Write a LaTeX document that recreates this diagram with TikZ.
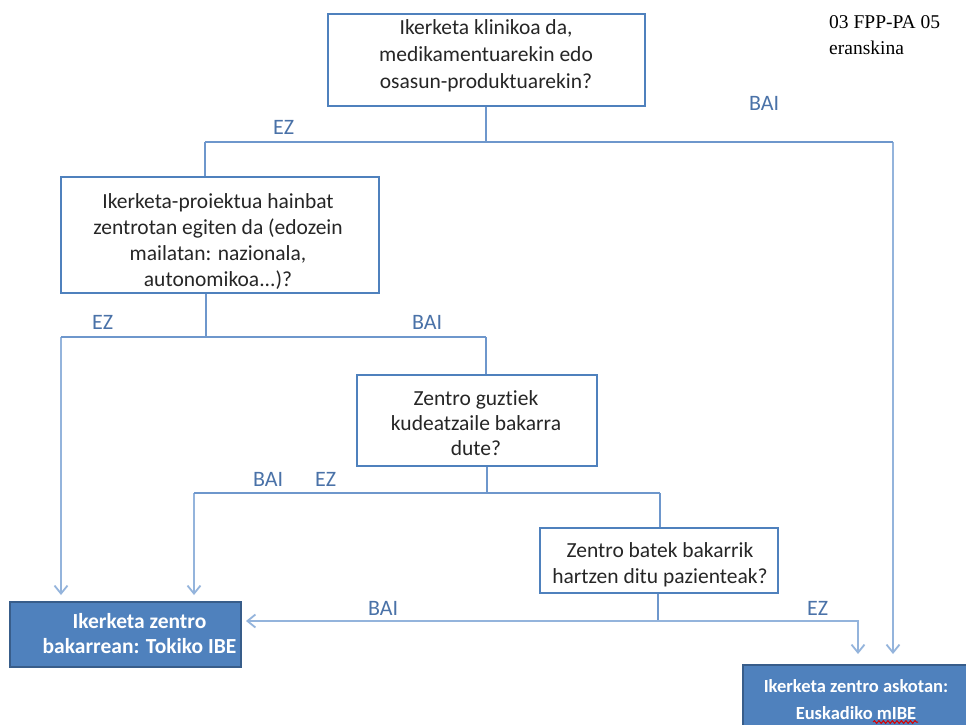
\documentclass[tikz,border=0pt]{standalone}
\usepackage{fontspec}
\setmainfont{Carlito}[Ligatures=NoCommon]
\newfontfamily\serifnote{Liberation Serif}
\usetikzlibrary{arrows.meta,decorations.pathmorphing}
\definecolor{boxblue}{HTML}{4F81BD}
\definecolor{darkblue}{HTML}{385D8A}
\definecolor{linemid}{HTML}{6E97CC}
\definecolor{linelight}{HTML}{94B4DC}
\definecolor{lblblue}{HTML}{4A72A8}
\definecolor{qtextcol}{HTML}{262626}
\begin{document}
\begin{tikzpicture}[x=1pt,y=-1pt,
  qbox/.style={draw=boxblue, line width=2.6pt, fill=white, inner sep=0pt},
  tbox/.style={draw=darkblue, line width=2pt, fill=boxblue, inner sep=0pt},
  qtext/.style={align=center, inner sep=0pt, anchor=north, text=qtextcol},
  ttext/.style={align=center, inner sep=0pt, anchor=north, text=white},
  lbl/.style={anchor=base west, inner sep=0pt, text=lblblue, font=\fontsize{22}{26}\selectfont},
  conn/.style={draw=linemid, line width=1.3pt},
  arr/.style={draw=linelight, line width=1.8pt, -{Straight Barb[length=8pt,width=13pt]}}
]
\useasboundingbox (0,0) rectangle (966,725);
\fill[white] (0,0) rectangle (966,725);
\clip (0,0) rectangle (966,725);

% boxes
\node[qbox, minimum width=317pt, minimum height=92pt] (b1) at (486.5,60) {};
\node[qbox, minimum width=318pt, minimum height=116pt] (b2) at (220,235) {};
\node[qbox, minimum width=240pt, minimum height=91pt] (b3) at (477,420.5) {};
\node[qbox, minimum width=238pt, minimum height=65pt] (b4) at (659,560.5) {};
\node[tbox, minimum width=231pt, minimum height=65pt] (b5) at (125.5,634.5) {};
\node[tbox, minimum width=247pt, minimum height=80pt] (b6) at (866.5,705) {};

% texts
\node[qtext, font=\fontsize{21.5}{27}\selectfont] (t1) at (486,15.6)
  {\strut Ikerketa klinikoa da,\\medikamentuarekin edo\\osasun-produktuarekin?};
\node[qtext, font=\fontsize{21.5}{26}\selectfont] (t2) at (218,189.8)
  {\strut Ikerketa-proiektua hainbat\\zentrotan egiten da (edozein\\mailatan: nazionala,\\autonomikoa...)?};
\node[qtext, font=\fontsize{21.5}{25}\selectfont] (t3) at (476,387.5)
  {\strut Zentro guztiek\\kudeatzaile bakarra\\dute?};
\node[qtext, font=\fontsize{21.5}{26}\selectfont] (t4) at (660,538.8)
  {\strut Zentro batek bakarrik\\hartzen ditu pazienteak?};
\node[ttext, font=\bfseries\fontsize{21.5}{25.5}\selectfont] (t5) at (139.5,610.2)
  {\strut Ikerketa zentro\\bakarrean: Tokiko IBE};
\node[ttext, font=\bfseries\fontsize{18.5}{26.5}\selectfont] (t6) at (856,674)
  {\strut Ikerketa zentro askotan:\\Euskadiko mIBE};
\draw[red!85!black, line width=1pt, decorate, decoration={snake, amplitude=1.4pt, segment length=4.5pt}]
  (873,722) -- (918,722);

% note
\node[anchor=north west, align=left, inner sep=0pt, text=black,
  font=\serifnote\fontsize{19.5}{26}\selectfont] (note) at (829,9.8)
  {\strut 03 FPP-PA 05\\eranskina};

% labels
\node[lbl] (l1) at (273,134) {EZ};
\node[lbl] (l2) at (749,110) {BAI};
\node[lbl] (l3) at (92,329) {EZ};
\node[lbl] (l4) at (412,329) {BAI};
\node[lbl] (l5) at (253,486) {BAI};
\node[lbl] (l6) at (315,486) {EZ};
\node[lbl] (l7) at (368,615) {BAI};
\node[lbl] (l8) at (807,615) {EZ};

% junctions
\coordinate (j1) at (486,142);
\coordinate (j1l) at (205,142);
\coordinate (j1r) at (893,142);
\coordinate (j2) at (206,337);
\coordinate (j2l) at (61,337);
\coordinate (j2r) at (486,337);
\coordinate (j3) at (487,493);
\coordinate (j3l) at (194,493);
\coordinate (j3r) at (660,493);
\coordinate (j4) at (658,621);
\coordinate (j4r) at (858,621);

% connectors
\draw[conn] (b1.south -| j1) -- (j1);
\draw[arr, shorten >=10pt] (j1r) -- (b6.north -| j1r);
\draw[conn] (j1l) -- (j1r);
\draw[conn] (j1l) -- (b2.north -| j1l);

\draw[conn] (b2.south -| j2) -- (j2);
\draw[arr, shorten >=6pt] (j2l) -- (b5.north -| j2l);
\draw[conn] (j2l) -- (j2r);
\draw[conn] (j2r) -- (b3.north -| j2r);

\draw[conn] (b3.south -| j3) -- (j3);
\draw[arr, shorten >=6pt] (j3l) -- (b5.north -| j3l);
\draw[conn] (j3l) -- (j3r);
\draw[conn] (j3r) -- (b4.north -| j3r);

\draw[conn] (b4.south -| j4) -- (j4);
\draw[arr, shorten >=4pt] (j4) -- (b5.east |- j4);
\draw[arr, shorten >=10pt] (j4) -- (j4r) -- (b6.north -| j4r);
\end{tikzpicture}
\end{document}
